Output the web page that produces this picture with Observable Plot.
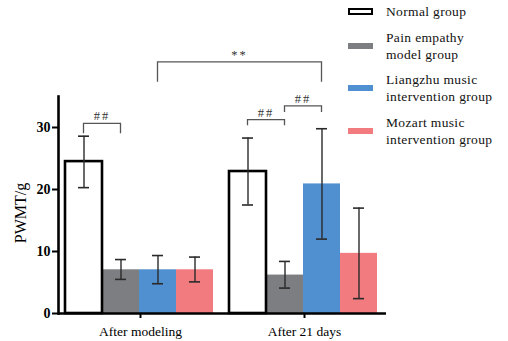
<!DOCTYPE html>
<html>
<head>
<meta charset="utf-8">
<script src="https://cdn.jsdelivr.net/npm/d3@7"></script>
<script src="https://cdn.jsdelivr.net/npm/@observablehq/plot@0.6"></script>
<style>
  html, body { margin: 0; padding: 0; background: #fff; }
  #wrap { position: relative; width: 508px; height: 341px; overflow: hidden; }
  #legend { position: absolute; left: 348px; top: 3px; font-family: "Liberation Serif", serif; font-size: 13.5px; letter-spacing: 0.35px; color: #111; }
  .item { display: flex; align-items: center; margin-bottom: 8.5px; }
  .sw { width: 25px; height: 6px; margin-right: 13px; flex: none; box-sizing: border-box; }
  .lines div { line-height: 17px; white-space: nowrap; }
</style>
</head>
<body>
<div id="wrap"><div id="legend"></div></div>
<script>
const groups = ["After modeling", "After 21 days"];
const series = ["Normal group", "Pain empathy model group", "Liangzhu music intervention group", "Mozart music intervention group"];
const legendLines = [["Normal group"], ["Pain empathy", "model group"], ["Liangzhu music", "intervention group"], ["Mozart music", "intervention group"]];
const colors = ["#ffffff", "#7d7e81", "#5090d0", "#f27b80"];

const meanModeling = [24.5, 7.05, 7.05, 7.05];
const lowModeling  = [20.3, 5.5, 4.8, 5.1];
const highModeling = [28.6, 8.7, 9.35, 9.1];
const mean21 = [22.9, 6.2, 20.9, 9.7];
const low21  = [17.5, 4.1, 12.0, 2.4];
const high21 = [28.3, 8.4, 29.8, 17.0];

const yTicks = [0, 10, 20, 30];
const yLabel = "PWMT/g";

// significance brackets
const sigFromGroup  = ["After modeling", "After 21 days", "After 21 days", "After modeling"];
const sigFromSeries = ["Normal group", "Normal group", "Pain empathy model group", "Liangzhu music intervention group"];
const sigToGroup    = ["After modeling", "After 21 days", "After 21 days", "After 21 days"];
const sigToSeries   = ["Pain empathy model group", "Pain empathy model group", "Liangzhu music intervention group", "Liangzhu music intervention group"];
const sigTop = [30.6, 31.2, 33.4, 40.5];
const sigLeg = [29.0, 30.3, 32.4, 37.3];
const sigText = ["##", "##", "##", "**"];

const means = [meanModeling, mean21], lows = [lowModeling, low21], highs = [highModeling, high21];
const rows = [];
groups.forEach((g, gi) => series.forEach((s, si) => rows.push({
  group: g, series: s, mean: means[gi][si], low: lows[gi][si], high: highs[gi][si], color: colors[si]
})));

const errColor = "#2a2a2a";
const chart = Plot.plot({
  width: 508, height: 341,
  marginLeft: 58, marginRight: 122, marginTop: 96, marginBottom: 28,
  style: {fontFamily: "'Liberation Serif', serif", fontSize: "13.5px", color: "#000", background: "#fff"},
  fx: {domain: groups, padding: 0, label: null},
  x: {domain: series, paddingInner: 0, paddingOuter: 0.216, align: 0.44, axis: null},
  y: {domain: [0, 35], axis: null},
  marks: [
    Plot.barY(rows, {fx: "group", x: "series", y: "mean", fill: "color"}),
    Plot.barY(rows.filter(d => d.series === series[0]), {fx: "group", x: "series", y: "mean", fill: "none", stroke: "#000", strokeWidth: 2.6}),
    Plot.ruleX(rows, {fx: "group", x: "series", y1: "low", y2: "high", stroke: errColor, strokeWidth: 1.4}),
    Plot.tickY(rows, {fx: "group", x: "series", y: "high", insetLeft: 13, insetRight: 13, stroke: errColor, strokeWidth: 1.6}),
    Plot.tickY(rows, {fx: "group", x: "series", y: "low", insetLeft: 13, insetRight: 13, stroke: errColor, strokeWidth: 1.6}),
    Plot.ruleY([0], {stroke: "#000", strokeWidth: 2.6}),
    Plot.frame({anchor: "left", facetAnchor: "left", stroke: "#000", strokeWidth: 2.6}),
    Plot.axisY({ticks: yTicks, tickSize: 6, tickPadding: 2, fontWeight: "bold", fontSize: 14, strokeWidth: 2, label: null}),
    Plot.axisFx({anchor: "bottom", tickSize: 5, tickPadding: 8, fontSize: 13.5, strokeWidth: 2, label: null}),
    Plot.text([yLabel], {fx: () => groups[0], frameAnchor: "left", textAnchor: "middle", rotate: -90, dx: -38, dy: 8, fontSize: 16, text: d => d})
  ]
});
document.getElementById("wrap").prepend(chart);

// significance brackets, positioned through Plot's scales
const fxS = chart.scale("fx"), xS = chart.scale("x"), yS = chart.scale("y");
const cx = (g, s) => fxS.apply(g) + xS.apply(s) - xS.range[0] + xS.bandwidth / 2;
const gSig = d3.select(chart).append("g");
sigText.forEach((t, i) => {
  const x1 = cx(sigFromGroup[i], sigFromSeries[i]);
  const x2 = cx(sigToGroup[i], sigToSeries[i]);
  const yt = yS.apply(sigTop[i]), yl = yS.apply(sigLeg[i]);
  gSig.append("path")
    .attr("d", `M${x1},${yl}V${yt}H${x2}V${yl}`)
    .attr("fill", "none").attr("stroke", "#555").attr("stroke-width", 1.3);
  gSig.append("text")
    .attr("x", (x1 + x2) / 2).attr("y", yt - 3)
    .attr("text-anchor", "middle")
    .attr("font-family", "'Liberation Serif', serif")
    .attr("font-size", 12.5).attr("letter-spacing", 2)
    .attr("fill", "#333")
    .text(t);
});

// legend
const legend = d3.select("#legend");
series.forEach((s, i) => {
  const item = legend.append("div").attr("class", "item");
  const sw = item.append("div").attr("class", "sw").style("background", colors[i]);
  if (i === 0) sw.style("border", "2px solid #000").style("height", "7px");
  const lines = item.append("div").attr("class", "lines");
  legendLines[i].forEach(l => lines.append("div").text(l));
});
</script>
</body>
</html>
